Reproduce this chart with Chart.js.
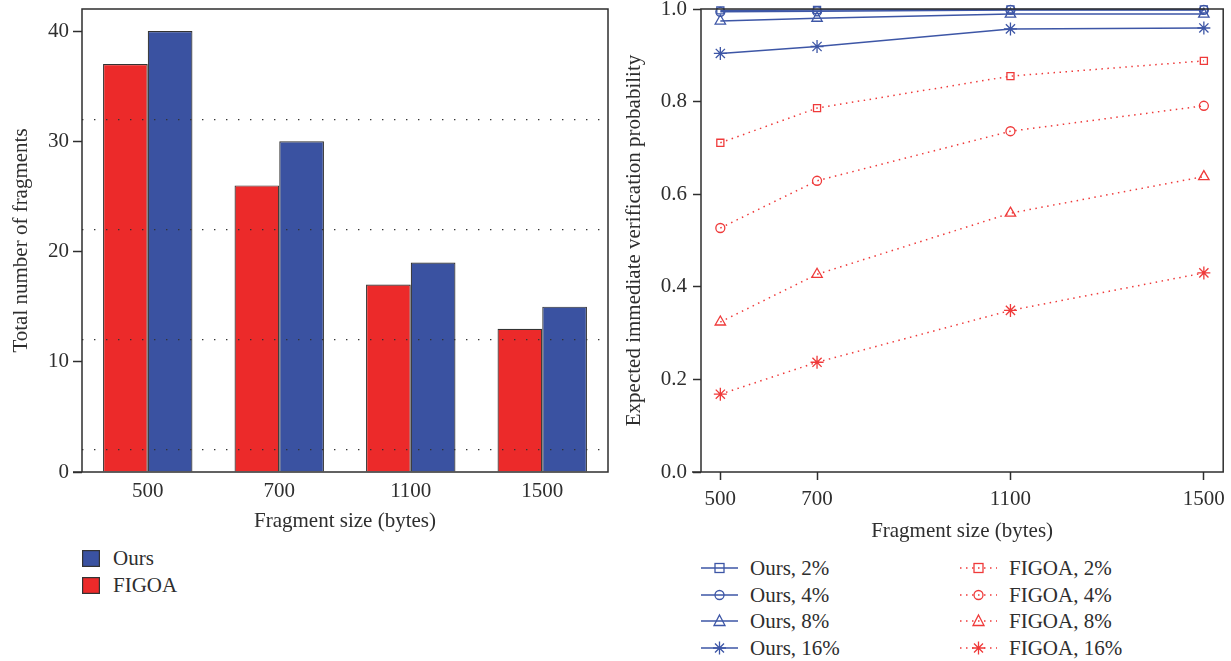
<!DOCTYPE html>
<html>
<head>
<meta charset="utf-8">
<script src="https://cdn.jsdelivr.net/npm/chart.js@4.4.1/dist/chart.umd.min.js"></script>
<style>
  body { margin: 0; background: #fff; width: 1231px; height: 661px; position: relative; overflow: hidden;
         font-family: "Liberation Serif", "Times New Roman", serif; color: #2e2e2e; }
  .box { position: absolute; }
  .leg { position: absolute; font-size: 21px; line-height: 20px; white-space: nowrap; }
  .leg svg { position: absolute; }
</style>
</head>
<body>
<div class="box" style="left:0;top:0;width:615px;height:536px"><canvas id="barChart"></canvas></div>
<div class="box" style="left:615px;top:0;width:616px;height:546px"><canvas id="lineChart"></canvas></div>
<div id="barLegend"></div>
<div id="lineLegend"></div>
<script>
// datos del grafico de barras
const categories = ['500', '700', '1100', '1500'];
const oursCounts = [40, 30, 19, 15];
const figoaCounts = [37, 26, 17, 13];
const countTicks = [0, 10, 20, 30, 40];
const dottedLevels = [2, 12, 22, 32];

// datos del grafico de lineas
const sizes = [500, 700, 1100, 1500];
const probTicks = [0, 0.2, 0.4, 0.6, 0.8, 1.0];
const ours2 = [0.997, 0.998, 0.999, 0.999];
const ours4 = [0.994, 0.995, 0.998, 0.998];
const ours8 = [0.974, 0.980, 0.989, 0.989];
const ours16 = [0.904, 0.919, 0.957, 0.959];
const figoa2 = [0.711, 0.786, 0.855, 0.888];
const figoa4 = [0.527, 0.629, 0.736, 0.791];
const figoa8 = [0.324, 0.427, 0.559, 0.638];
const figoa16 = [0.168, 0.237, 0.349, 0.430];

const RED = '#ec2a2a';
const BLUE = '#3a52a1';
const LRED = '#ef3a3a';
const LBLUE = '#3d56a6';
const INK = '#2e2e2e';
const font = { family: '"Liberation Serif", "Times New Roman", serif', size: 21 };

// marco alrededor del area de dibujo
const framePlugin = {
    id: 'frame',
    afterDraw: function (chart, args, opts) {
        var a = chart.chartArea, ctx = chart.ctx;
        ctx.save();
        ctx.strokeStyle = INK;
        ctx.lineWidth = 1.5;
        ctx.strokeRect(a.left, a.top, a.right - a.left, a.bottom - a.top);
        if (opts.extendBottom) {
            ctx.beginPath();
            ctx.moveTo(a.left - opts.extendBottom, a.bottom);
            ctx.lineTo(a.left, a.bottom);
            ctx.stroke();
        }
        ctx.restore();
    }
};

function fixedTicks(list) {
    return function (scale) { scale.ticks = list.map(function (v) { return { value: v }; }); };
}
function fixedSize(w, h) {
    return function (s) {
        if (w != null) s.width = w;
        if (h != null) s.height = h;
        s.paddingTop = 0; s.paddingBottom = 0; s.paddingLeft = 0; s.paddingRight = 0;
    };
}

new Chart(document.getElementById('barChart'), {
    type: 'bar',
    data: {
        labels: categories,
        datasets: [
            { label: 'FIGOA', data: figoaCounts, backgroundColor: RED, borderColor: '#333', borderWidth: 1.2, borderSkipped: 'bottom' },
            { label: 'Ours', data: oursCounts, backgroundColor: BLUE, borderColor: '#333', borderWidth: 1.2, borderSkipped: 'bottom' }
        ]
    },
    plugins: [framePlugin],
    options: {
        responsive: true,
        maintainAspectRatio: false,
        animation: false,
        layout: { padding: { top: 9, right: 7, left: 0, bottom: 0 } },
        datasets: { bar: { barPercentage: 1, categoryPercentage: 0.68 } },
        plugins: { legend: { display: false }, tooltip: { enabled: false }, frame: { extendBottom: 9 } },
        scales: {
            x: {
                grid: { display: false, drawTicks: false },
                border: { display: false },
                ticks: { color: INK, font: font, padding: 7 },
                title: { display: true, text: 'Fragment size (bytes)', color: INK, font: font, padding: { top: 0, bottom: 2 } },
                afterFit: fixedSize(null, 64)
            },
            y: {
                min: 0, max: 42,
                afterBuildTicks: fixedTicks(countTicks),
                grid: { drawOnChartArea: false, drawTicks: true, tickLength: 9, tickColor: INK, tickWidth: 1.5 },
                border: { display: false },
                ticks: { color: INK, font: font, padding: 4 },
                title: { display: true, text: 'Total number of fragments', color: INK, font: font, padding: { top: 9, bottom: 0 } },
                afterFit: fixedSize(82, null)
            },
            yDots: {
                position: 'left',
                min: 0, max: 42,
                afterBuildTicks: fixedTicks(dottedLevels),
                grid: { drawTicks: false, color: '#333', lineWidth: 1.3, z: 1 },
                border: { display: false, dash: [1.4, 10.6] },
                ticks: { display: false },
                afterFit: fixedSize(0, null)
            }
        }
    }
});

function pts(ys) {
    return sizes.map(function (x, i) { return { x: x, y: ys[i] }; });
}

function oursSet(label, ys, style, r) {
    return { label: label, data: pts(ys), borderColor: LBLUE, borderWidth: 1.5, pointStyle: style, pointRadius: r,
             pointBorderColor: LBLUE, pointBackgroundColor: 'rgba(0,0,0,0)', pointBorderWidth: 1.3, clip: false };
}
function figoaSet(label, ys, style, r) {
    return { label: label, data: pts(ys), borderColor: LRED, borderWidth: 1.5, borderDash: [1.5, 4.5], pointStyle: style,
             pointRadius: r, pointBorderColor: LRED, pointBackgroundColor: 'rgba(0,0,0,0)', pointBorderWidth: 1.3, clip: false };
}

new Chart(document.getElementById('lineChart'), {
    type: 'line',
    data: {
        datasets: [
            oursSet('Ours, 2%', ours2, 'rect', 5),
            oursSet('Ours, 4%', ours4, 'circle', 4.5),
            oursSet('Ours, 8%', ours8, 'triangle', 6),
            oursSet('Ours, 16%', ours16, 'star', 6.5),
            figoaSet('FIGOA, 2%', figoa2, 'rect', 5),
            figoaSet('FIGOA, 4%', figoa4, 'circle', 4.5),
            figoaSet('FIGOA, 8%', figoa8, 'triangle', 6),
            figoaSet('FIGOA, 16%', figoa16, 'star', 6.5)
        ]
    },
    plugins: [framePlugin],
    options: {
        responsive: true,
        maintainAspectRatio: false,
        animation: false,
        layout: { padding: { top: 9, right: 6, left: 0, bottom: 0 } },
        plugins: { legend: { display: false }, tooltip: { enabled: false }, frame: { extendBottom: 9 } },
        scales: {
            x: {
                type: 'linear',
                min: 460, max: 1540,
                afterBuildTicks: fixedTicks(sizes),
                grid: { drawOnChartArea: false, drawTicks: true, tickLength: 8, tickColor: INK, tickWidth: 1.5 },
                border: { display: false },
                ticks: { color: INK, font: font, padding: 7, maxRotation: 0, callback: function (v) { return String(v); } },
                title: { display: true, text: 'Fragment size (bytes)', color: INK, font: font, padding: { top: 0, bottom: 2 } },
                afterFit: fixedSize(null, 74)
            },
            y: {
                min: 0, max: 1,
                afterBuildTicks: fixedTicks(probTicks),
                grid: { drawOnChartArea: false, drawTicks: true, tickLength: 8, tickColor: INK, tickWidth: 1.5 },
                border: { display: false },
                ticks: { color: INK, font: font, padding: 6, callback: function (v) { return v.toFixed(1); } },
                title: { display: true, text: 'Expected immediate verification probability', color: INK, font: font, padding: { top: 7, bottom: 0 } },
                afterFit: fixedSize(86, null)
            }
        }
    }
});

// leyendas en html
function marker(style, color) {
    if (style === 'rect') return '<rect x="14" y="5.5" width="9" height="9" fill="none" stroke="' + color + '" stroke-width="1.3"/>';
    if (style === 'circle') return '<circle cx="18.5" cy="10" r="4.5" fill="none" stroke="' + color + '" stroke-width="1.3"/>';
    if (style === 'triangle') return '<polygon points="18.5,4 24,14.5 13,14.5" fill="none" stroke="' + color + '" stroke-width="1.3"/>';
    return '<path d="M18.5,3.5V16.5M12,10H25M14,5.5L23,14.5M23,5.5L14,14.5" stroke="' + color + '" stroke-width="1.3"/>';
}

var barLeg = '';
[['Ours', BLUE, 558], ['FIGOA', RED, 585]].forEach(function (it) {
    barLeg += '<div class="leg" style="left:82px;top:' + (it[2] - 10) + 'px">' +
        '<svg width="18" height="17" style="left:0;top:2px"><rect x="0.6" y="0.6" width="16.8" height="15.8" fill="' + it[1] + '" stroke="#333" stroke-width="1.2"/></svg>' +
        '<span style="position:absolute;left:31px;top:0">' + it[0] + '</span></div>';
});
document.getElementById('barLegend').innerHTML = barLeg;

var styles = ['rect', 'circle', 'triangle', 'star'];
var names = ['2%', '4%', '8%', '16%'];
var rows = [568, 595, 621, 648];
var lineLeg = '';
rows.forEach(function (y, i) {
    lineLeg += '<div class="leg" style="left:701px;top:' + (y - 10) + 'px">' +
        '<svg width="37" height="20" style="left:0;top:0"><line x1="0" y1="10" x2="37" y2="10" stroke="' + LBLUE + '" stroke-width="1.5"/>' + marker(styles[i], LBLUE) + '</svg>' +
        '<span style="position:absolute;left:49px;top:0">Ours, ' + names[i] + '</span></div>';
    lineLeg += '<div class="leg" style="left:960px;top:' + (y - 10) + 'px">' +
        '<svg width="37" height="20" style="left:0;top:0"><line x1="0" y1="10" x2="37" y2="10" stroke="' + LRED + '" stroke-width="1.5" stroke-dasharray="1.5 4.5"/>' + marker(styles[i], LRED) + '</svg>' +
        '<span style="position:absolute;left:49px;top:0">FIGOA, ' + names[i] + '</span></div>';
});
document.getElementById('lineLegend').innerHTML = lineLeg;
</script>
</body>
</html>
